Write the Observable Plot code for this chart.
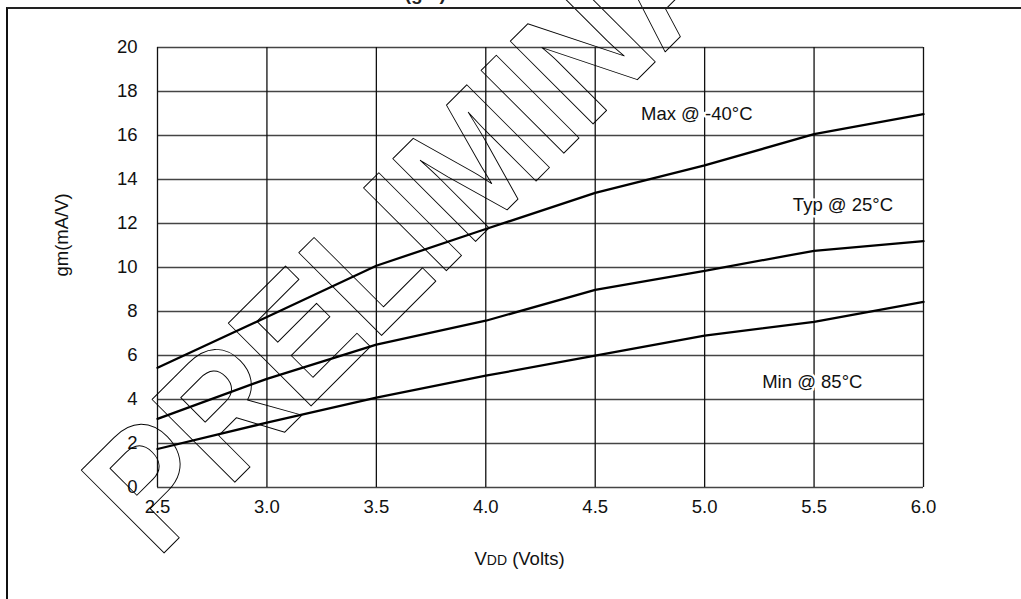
<!DOCTYPE html>
<html><head><meta charset="utf-8">
<script src="https://cdn.jsdelivr.net/npm/d3@7"></script>
<script src="https://cdn.jsdelivr.net/npm/@observablehq/plot@0.6"></script>
<style>
html,body{margin:0;padding:0;background:#fff;overflow:hidden;}
#wrap{position:relative;width:1021px;height:599px;}
#border{position:absolute;left:6px;top:7px;width:1015px;height:592px;border-left:2.5px solid #111;border-top:2px solid #222;box-sizing:border-box;pointer-events:none;}
#chart{position:absolute;left:0;top:0;}
svg{font-family:"Liberation Sans",Arial,sans-serif;}
</style>
</head><body>
<div id="wrap"><div id="chart"></div><div id="border"></div></div>
<script>
// Supply voltage (V)
const vdd = [2.5, 3.0, 3.5, 4.0, 4.5, 5.0, 5.5, 6.0];
// Transconductance gm (mA/V)
const gmMax = [5.44, 7.75, 10.08, 11.75, 13.39, 14.64, 16.06, 16.97];
const gmTyp = [3.12, 4.94, 6.49, 7.58, 8.98, 9.85, 10.76, 11.2];
const gmMin = [1.75, 2.95, 4.08, 5.08, 5.99, 6.9, 7.53, 8.44];
const seriesNames = ["Max @ -40°C", "Typ @ 25°C", "Min @ 85°C"];
const labelX = [4.964, 5.632, 5.492];
const labelY = [16.70, 12.58, 4.52];
const xTicks = [2.5, 3.0, 3.5, 4.0, 4.5, 5.0, 5.5, 6.0];
const yTicks = [0, 2, 4, 6, 8, 10, 12, 14, 16, 18, 20];
const xLabel = "VDD (Volts)";
const yLabel = "gm(mA/V)";
const titleLead = "FIGURE 13-11:";
const titleText = "TRANSCONDUCTANCE (gm) OF HS OSCILLATOR VS. VDD";
const watermark = "PRELIMINARY";

const allSeries = [gmMax, gmTyp, gmMin];
const rows = [];
allSeries.forEach((vals, i) => vals.forEach((v, j) => rows.push({series: seriesNames[i], x: vdd[j], y: v})));
const labels = seriesNames.map((s, i) => ({s, x: labelX[i], y: labelY[i]}));

const fs = 18.5;
const plot = Plot.plot({
  width: 1021,
  height: 599,
  marginLeft: 157,
  marginRight: 98,
  marginTop: 47,
  marginBottom: 112,
  style: {fontFamily: '"Liberation Sans", Arial, sans-serif', fontSize: fs + "px", background: "transparent", color: "#111"},
  x: {domain: [2.5, 6.0]},
  y: {domain: [0, 20]},
  marks: [
    Plot.ruleY(yTicks, {stroke: "#444", strokeWidth: 1.6}),
    Plot.ruleX(xTicks, {stroke: "#111", strokeWidth: 1.3}),
    Plot.axisX(xTicks, {tickSize: 0, tickPadding: 12, tickFormat: d3.format(".1f"), fontSize: fs, fill: "#111", label: null}),
    Plot.axisY(yTicks, {tickSize: 0, tickPadding: 20, fontSize: fs, fill: "#111", label: null}),
    Plot.line(rows, {x: "x", y: "y", z: "series", stroke: "#000", strokeWidth: 2.3}),
    Plot.text([watermark], {frameAnchor: "top-left", dx: 362, dy: 150, rotate: -45, fontSize: 170, fontWeight: "bold", fill: "none", stroke: "#000", strokeWidth: 1, lineAnchor: "bottom", textAnchor: "middle", className: "wm"}),
    Plot.text(labels, {x: "x", y: "y", text: "s", fontSize: fs, fill: "#111", stroke: "white", strokeWidth: 5, lineAnchor: "bottom", textAnchor: "middle"}),
    Plot.text([yLabel], {frameAnchor: "left", dx: -95, dy: 9, rotate: -90, fontSize: fs, fill: "#111", lineAnchor: "middle"}),
    Plot.text([xLabel], {frameAnchor: "bottom", dx: -21, dy: 77, fontSize: fs, fill: "#111", lineAnchor: "bottom", className: "xlab"}),
    Plot.text([titleLead], {frameAnchor: "top-left", dx: -142, dy: -47.5, fontSize: 19, fontWeight: "bold", fill: "#222", textAnchor: "start", lineAnchor: "bottom"}),
    Plot.text([titleText], {frameAnchor: "top-left", dx: 29, dy: -47.5, fontSize: 19, fontWeight: "bold", fill: "#222", textAnchor: "start", lineAnchor: "bottom"})
  ]
});
document.getElementById("chart").appendChild(plot);
// Condensed look for the outlined watermark
d3.select(plot).selectAll("g.wm text").each(function() {
  const tr = this.getAttribute("transform") || "";
  this.setAttribute("transform", tr + " scale(0.88,1)");
});
// Render the DD subscript-style in the x-axis label
d3.select(plot).selectAll("g.xlab text").each(function() {
  const t = d3.select(this);
  t.text(null);
  t.append("tspan").text("V");
  t.append("tspan").attr("font-size", "14px").text("DD");
  t.append("tspan").text(" (Volts)");
});
</script>
</body></html>
